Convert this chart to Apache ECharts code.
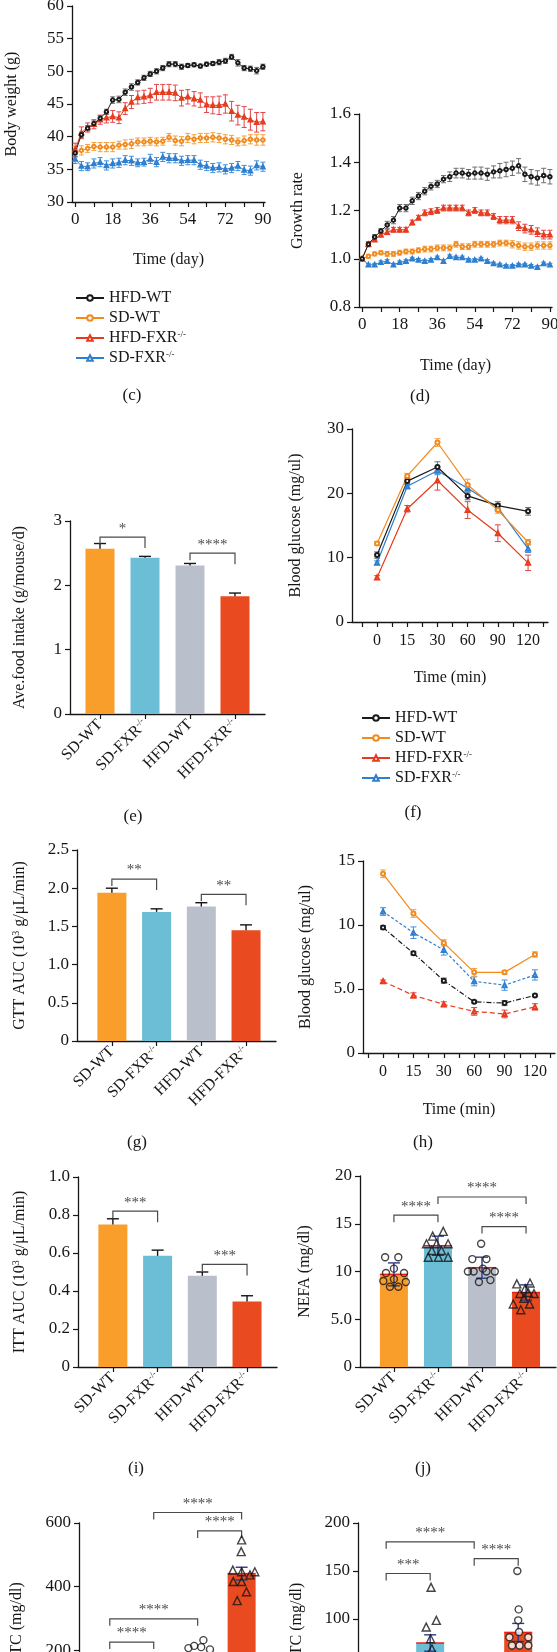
<!DOCTYPE html>
<html><head><meta charset="utf-8">
<script src="https://cdn.jsdelivr.net/npm/echarts@6/dist/echarts.min.js"></script>
<style>html,body{margin:0;padding:0;background:#fff}#main{width:557px;height:1652px}</style>
</head><body><div id="main"></div>
<script>
// ---------------- DATA ----------------
const groups = ['SD-WT','SD-FXR-/-','HFD-WT','HFD-FXR-/-'];
const lineGroups = ['HFD-WT','SD-WT','HFD-FXR-/-','SD-FXR-/-'];
const days = [0,3,6,9,12,15,18,21,24,27,30,33,36,39,42,45,48,51,54,57,60,63,66,69,72,75,78,81,84,87,90];
const dayTicks = ['0','18','36','54','72','90'];
const timeLabels = ['0','15','30','60','90','120'];

// (c) body weight
const bwHFDWT  = [37.5,40.3,41.3,42.0,42.8,43.8,45.6,45.7,46.8,47.6,48.3,49.0,49.6,50.0,50.5,51.1,51.1,50.7,50.9,51.0,50.8,51.1,51.2,51.4,51.6,52.2,51.3,50.5,50.4,50.1,50.7];
const bwHFDWTe = [0.6,0.4,0.4,0.4,0.4,0.4,0.5,0.5,0.5,0.5,0.4,0.4,0.4,0.4,0.4,0.4,0.4,0.4,0.3,0.3,0.3,0.3,0.3,0.4,0.4,0.4,0.5,0.4,0.4,0.5,0.4];
const bwSDWT   = [37.7,37.9,38.2,38.5,38.4,38.4,38.4,38.7,38.8,38.9,39.2,39.2,39.3,39.2,39.3,39.9,39.4,39.3,39.8,39.6,39.8,39.8,39.9,39.8,39.6,39.5,39.2,39.4,39.6,39.5,39.5];
const bwSDWTe  = [0.8,0.7,0.6,0.6,0.7,0.7,0.7,0.6,0.7,0.7,0.6,0.6,0.6,0.6,0.6,0.6,0.7,0.7,0.7,0.7,0.7,0.7,0.7,0.7,0.7,0.7,0.6,0.7,0.7,0.8,0.8];
const bwHFDFXR = [38.0,40.6,41.4,41.9,42.6,42.9,43.1,42.9,44.3,45.3,46.0,46.1,46.3,46.8,46.8,46.8,46.7,45.9,46.1,45.8,45.6,44.9,44.8,44.8,45.0,43.9,43.3,43.0,42.6,42.2,42.3];
const bwHFDFXRe= [1.0,0.9,0.7,0.7,0.7,0.8,0.9,0.9,0.9,1.0,1.0,1.0,1.1,1.2,1.2,1.2,1.2,1.2,1.1,1.1,1.1,1.2,1.3,1.4,1.4,1.5,1.5,1.6,1.6,1.5,1.4];
const bwSDFXR  = [36.6,35.5,35.4,35.9,36.1,35.6,35.9,36.0,36.4,36.3,36.0,36.1,36.6,36.1,36.9,36.7,36.7,36.3,36.4,36.4,35.7,35.5,35.2,35.3,35.0,35.2,35.5,34.9,34.8,35.6,35.4];
const bwSDFXRe = [0.7,0.7,0.6,0.7,0.7,0.7,0.7,0.7,0.7,0.7,0.6,0.6,0.7,0.7,0.7,0.7,0.7,0.7,0.7,0.7,0.7,0.7,0.7,0.7,0.7,0.7,0.7,0.7,0.7,0.7,0.7];
const cYTicks = ['30','35','40','45','50','55','60'];

// (d) growth rate
const grHFDWT  = [1.0,1.06,1.09,1.115,1.14,1.16,1.21,1.21,1.24,1.26,1.28,1.30,1.31,1.33,1.34,1.355,1.355,1.35,1.355,1.355,1.35,1.36,1.365,1.37,1.375,1.385,1.35,1.34,1.335,1.345,1.34];
const grHFDWTe = [0,0.01,0.01,0.01,0.015,0.015,0.015,0.015,0.015,0.015,0.015,0.015,0.015,0.015,0.02,0.02,0.02,0.02,0.025,0.025,0.025,0.025,0.03,0.03,0.03,0.03,0.03,0.03,0.03,0.03,0.03];
const grSDWT   = [1.0,1.01,1.02,1.025,1.02,1.02,1.025,1.03,1.03,1.035,1.04,1.04,1.045,1.045,1.045,1.06,1.05,1.05,1.06,1.06,1.06,1.06,1.065,1.065,1.06,1.055,1.05,1.05,1.055,1.055,1.055];
const grSDWTe  = [0,0.008,0.008,0.008,0.01,0.01,0.01,0.01,0.01,0.01,0.012,0.012,0.012,0.012,0.012,0.012,0.012,0.012,0.012,0.012,0.012,0.012,0.012,0.012,0.015,0.015,0.015,0.015,0.015,0.015,0.015];
const grHFDFXR = [1.0,1.06,1.08,1.10,1.11,1.12,1.12,1.12,1.15,1.17,1.19,1.195,1.20,1.21,1.21,1.21,1.21,1.19,1.20,1.19,1.19,1.175,1.16,1.16,1.16,1.135,1.125,1.12,1.11,1.10,1.10];
const grHFDFXRe= [0,0.01,0.01,0.01,0.01,0.01,0.01,0.01,0.01,0.01,0.012,0.012,0.012,0.012,0.012,0.012,0.012,0.012,0.012,0.012,0.012,0.012,0.015,0.015,0.015,0.018,0.018,0.018,0.018,0.018,0.018];
const grSDFXR  = [1.0,0.975,0.975,0.985,0.99,0.975,0.985,0.99,1.0,0.995,0.99,0.995,1.005,0.99,1.01,1.005,1.005,0.995,0.995,1.0,0.99,0.98,0.975,0.97,0.97,0.975,0.975,0.97,0.965,0.98,0.975];
const grSDFXRe = [0,0.006,0.006,0.006,0.006,0.006,0.006,0.006,0.006,0.006,0.006,0.006,0.006,0.006,0.006,0.006,0.006,0.006,0.006,0.006,0.006,0.006,0.006,0.006,0.006,0.006,0.006,0.006,0.006,0.006,0.006];
const dYTicks = ['0.8','1.0','1.2','1.4','1.6'];

// (e) food intake
const foodVals = [2.57,2.43,2.31,1.83];
const foodErr  = [0.08,0.02,0.03,0.05];
const foodBr   = [[0,1,2.75,'*'],[2,3,2.5,'****']];
const eYTicks  = ['0','1','2','3'];

// (f) GTT
const gttHFDWT  = [10.4,21.9,24.1,19.6,18.1,17.2];
const gttHFDWTe = [0.5,0.5,0.8,0.6,0.6,0.6];
const gttSDWT   = [12.2,22.7,27.9,21.3,17.4,12.4];
const gttSDWTe  = [0.3,0.4,0.6,0.9,0.5,0.4];
const gttHFDFXR = [6.9,17.6,22.0,17.4,13.8,9.2];
const gttHFDFXRe= [0.3,0.5,1.5,1.3,1.3,1.2];
const gttSDFXR  = [9.2,21.1,23.5,20.8,17.8,11.4];
const gttSDFXRe = [0.3,0.4,0.6,0.6,0.6,0.6];
const fYTicks = ['0','10','20','30'];

// (g) GTT AUC
const gttAuc    = [1.94,1.69,1.76,1.45];
const gttAucErr = [0.06,0.04,0.05,0.07];
const gttBr     = [[0,1,2.12,'**'],[2,3,1.92,'**']];
const gYTicks   = ['0','0.5','1.0','1.5','2.0','2.5'];

// (h) ITT
const ittSDWT   = [14.0,10.9,8.6,6.3,6.3,7.7];
const ittSDWTe  = [0.3,0.3,0.25,0.3,0.15,0.2];
const ittSDFXR  = [11.05,9.4,8.05,5.6,5.3,6.1];
const ittSDFXRe = [0.3,0.45,0.4,0.35,0.4,0.4];
const ittHFDWT  = [9.8,7.8,5.65,4.0,3.9,4.5];
const ittHFDWTe = [0.15,0.15,0.2,0.1,0.2,0.1];
const ittHFDFXR = [5.6,4.5,3.8,3.25,3.05,3.6];
const ittHFDFXRe= [0.1,0.2,0.2,0.3,0.3,0.25];
const hYTicks = ['0','5.0','10','15'];

// (i) ITT AUC
const ittAuc    = [0.75,0.585,0.48,0.345];
const ittAucErr = [0.03,0.03,0.02,0.03];
const ittBr     = [[0,1,0.82,'***'],[2,3,0.54,'***']];
const iYTicks   = ['0','0.2','0.4','0.6','0.8','1.0'];

// (j) NEFA
const nefaVals = [9.7,12.7,10.4,7.8];
const nefaErr  = [1.2,1.0,1.1,0.8];
const nefaPtsSDWT   = [[-0.20,11.5],[0.10,11.5],[0.0,10.3],[-0.18,9.85],[0.23,9.85],[0.0,9.2],[-0.24,9.0],[0.27,8.9],[-0.09,8.4],[0.10,8.4]];
const nefaPtsSDFXR  = [[1.12,14.2],[0.88,13.7],[0.74,12.9],[0.97,12.9],[1.23,12.9],[0.86,12.2],[1.08,12.2],[0.78,11.5],[1.01,11.5],[1.23,11.5]];
const nefaPtsHFDWT  = [[1.98,12.9],[1.78,11.3],[2.10,11.3],[1.68,10.0],[1.81,10.0],[2.02,10.3],[2.10,10.0],[2.29,10.0],[1.93,8.9],[2.19,9.1]];
const nefaPtsHFDFXR = [[2.79,8.7],[3.09,8.8],[2.98,8.2],[2.86,7.7],[3.05,7.8],[3.18,7.7],[2.95,7.2],[2.71,6.6],[3.08,6.6],[2.88,6.0]];
const nefaBr = [[0,1,15.9,'****'],[1,3,17.8,'****'],[2,3,14.7,'****']];
const jYTicks = ['0','5.0','10','15','20'];

// (k) TC (left)
const tcKVals = [110,130,175,441];
const tcKErr  = [10,12,10,20];
const tcKPtsHFDWT  = [[1.79,207],[1.92,214],[2.08,210],[2.13,232],[2.28,203],[1.85,150],[2.0,160],[2.15,140]];
const tcKPtsHFDFXR = [[3.0,547],[2.99,510],[2.80,452],[3.30,447],[3.0,447],[3.19,437],[2.81,416],[3.0,416],[3.11,384],[2.90,356]];
const tcKBr = [[0,1,226,'****'],[0,2,299,'****'],[2,3,575,'****'],[1,3,633,'****']];
const kYTicks = ['0','200','400','600'];

// (l) TC (right)
const tcLVals = [35,75,40,86];
const tcLErr  = [4,8.5,4,9.4];
const tcLPtsSDFXR  = [[1.02,133],[1.14,98.6],[0.91,91.6],[1.01,79.4],[1.04,68.9]];
const tcLPtsHFDFXR = [[2.98,150],[3.01,110],[3.0,98.6],[3.02,86.4],[2.80,81],[3.23,81],[2.86,72.4],[3.03,72.4],[3.23,72.4]];
const tcLBr = [[0,1,147.4,'***'],[0,2,180.4,'****'],[2,3,162.8,'****']];
const lYTicks = ['0','50','100','150','200'];

// ---------------- STYLE ----------------
const FONT = '"Liberation Serif","DejaVu Serif",serif';
const INK = '#161616';
const TICKFS = 17, NAMEFS = 16;
const SUP = {sup:{fontSize:9, verticalAlign:'top', padding:[0,0,7,0], fontFamily:FONT, color:INK}};
function supFmt(s){ return s.endsWith('-/-') ? s.slice(0,-3)+'{sup|-/-}' : s; }
const barColors = ['#f99d2b','#6cbdd6','#b9c0cc','#ea4a1f'];
const C = {
  'HFD-WT':     {line:'#1a1a1a', err:'#707070', sym:'emptyCircle'},
  'SD-WT':      {line:'#f28a1e', err:'#f2a040', sym:'emptyCircle'},
  'HFD-FXR-/-': {line:'#e63b1c', err:'#e0454a', sym:'emptyTriangle'},
  'SD-FXR-/-':  {line:'#2e7fcf', err:'#3f8fdc', sym:'emptyTriangle'}
};

// x-extent (in category units) of each indexed x axis: [min, max]
const catExt = {
  f:[-0.83, 5.66], h:[-0.66, 5.66],
  e:[-0.667, 3.667], g:[-0.78, 3.67], i:[-0.78, 3.67], j:[-0.77, 3.68], k:[-0.70, 3.6], l:[-0.64, 3.7]
};
const gridBase = {outerBoundsMode:'none', containLabel:false};
const grids = [
  {left:72,  top:6,    width:193, height:196},   // c
  {left:359, top:114,  width:193, height:193},   // d
  {left:70,  top:521,  width:195, height:193},   // e
  {left:352, top:429,  width:196, height:193},   // f
  {left:77,  top:850,  width:199, height:191},   // g
  {left:363, top:861,  width:192, height:192},   // h
  {left:78,  top:1177, width:199, height:190},   // i
  {left:360, top:1176, width:196, height:191},   // j
  {left:79,  top:1523, width:189, height:191},   // k
  {left:358, top:1523, width:191, height:192}    // l
].map(g=>Object.assign({}, gridBase, g));

const axLine = {show:true, onZero:false, lineStyle:{color:INK, width:1.3}};
const axTick = {show:true, length:5, lineStyle:{color:INK, width:1.2}};
const lblBase = {fontFamily:FONT, fontSize:TICKFS, color:INK};
const nameStyle = {fontFamily:FONT, fontSize:NAMEFS, color:INK, rich:{sup:{fontSize:10, verticalAlign:'top', padding:[0,0,7,0], fontFamily:FONT, color:INK}}};

function yAx(grid, min, max, interval, labels, name, nameGap){
  return {type:'value', gridIndex:grid, min, max, interval, name, nameLocation:'middle', nameGap,
    nameTextStyle:nameStyle, axisLine:axLine, axisTick:axTick, splitLine:{show:false},
    axisLabel:Object.assign({}, lblBase, {margin:8, formatter:v=>labels[Math.round((v-min)/interval)]})};
}
const xAxes = [], yAxes = [], series = [];

// ----- line panels -----
function dayAxis(grid, gap){
  return {type:'value', gridIndex:grid, min:-1.5, max:91, name:'Time (day)', nameLocation:'middle', nameGap:gap,
    nameTextStyle:nameStyle, axisLine:axLine,
    axisTick:Object.assign({}, axTick, {customValues:[0,9,18,27,36,45,54,63,72,81,90]}),
    splitLine:{show:false},
    axisLabel:Object.assign({}, lblBase, {margin:9, customValues:[0,18,36,54,72,90], formatter:v=>dayTicks[Math.round(v/18)]})};
}
function timeAxis(grid, ext, gap){
  return {type:'value', gridIndex:grid, min:ext[0], max:ext[1], name:'Time (min)', nameLocation:'middle', nameGap:gap,
    nameTextStyle:nameStyle, axisLine:axLine,
    axisTick:Object.assign({}, axTick, {customValues:[-0.5,0,0.5,1,1.5,2,2.5,3,3.5,4,4.5,5,5.5]}),
    splitLine:{show:false},
    axisLabel:Object.assign({}, lblBase, {fontSize:16, margin:11, customValues:[0,1,2,3,4,5], formatter:v=>timeLabels[Math.round(v)]})};
}
function errRender(color, cap, width, up){
  return function(params, api){
    const x = api.value(0), lo = api.value(1), hi = api.value(2);
    const a = api.coord([x, hi]), b = api.coord([x, lo]);
    const st = {stroke:color, lineWidth:width, fill:null};
    const ch = [
      {type:'line', shape:{x1:a[0], y1:a[1], x2:b[0], y2:b[1]}, style:st},
      {type:'line', shape:{x1:a[0]-cap, y1:a[1], x2:a[0]+cap, y2:a[1]}, style:st}
    ];
    if(!up) ch.push({type:'line', shape:{x1:b[0]-cap, y1:b[1], x2:b[0]+cap, y2:b[1]}, style:st});
    return {type:'group', children:ch};
  };
}
function errSeries(xi, yi, xs, ys, es, color, cap, width, up){
  return {type:'custom', xAxisIndex:xi, yAxisIndex:yi, silent:true, animation:false, z:2,
    renderItem:errRender(color, cap, width, up),
    data:xs.map((x,i)=>[x, up ? ys[i] : ys[i]-es[i], ys[i]+es[i]])};
}
function lineSeries(name, xi, yi, xs, ys, size, lineType, width){
  const c = C[name];
  return {type:'line', name, xAxisIndex:xi, yAxisIndex:yi, animation:false, z:3,
    data:xs.map((x,i)=>[x, ys[i]]), symbol:c.sym, symbolSize:size, showSymbol:true,
    lineStyle:{color:c.line, width:width||1, type:lineType||'solid'}, itemStyle:{color:c.line, borderWidth:1}};
}
function addLines(xi, yi, xs, sets, size, cap, types, width){
  sets.forEach(([name, ys, es], k)=>{
    series.push(errSeries(xi, yi, xs, ys, es, C[name].err, cap, 1, false));
    series.push(lineSeries(name, xi, yi, xs, ys, size, types ? types[k] : 'solid', width));
  });
}

// (c)
xAxes.push(dayAxis(0, 50));
yAxes.push(yAx(0, 30, 60, 5, cYTicks, 'Body weight (g)', 52));
addLines(0, 0, days, [['SD-FXR-/-',bwSDFXR,bwSDFXRe],['SD-WT',bwSDWT,bwSDWTe],['HFD-FXR-/-',bwHFDFXR,bwHFDFXRe],['HFD-WT',bwHFDWT,bwHFDWTe]], 3.5, 2.5);
// (d)
xAxes.push(dayAxis(1, 51));
yAxes.push(yAx(1, 0.8, 1.6, 0.2, dYTicks, 'Growth rate', 53));
addLines(1, 1, days, [['SD-FXR-/-',grSDFXR,grSDFXRe],['SD-WT',grSDWT,grSDWTe],['HFD-FXR-/-',grHFDFXR,grHFDFXRe],['HFD-WT',grHFDWT,grHFDWTe]], 3.5, 2.5);

// ----- bar panels -----
function groupAxis(grid, ext){
  return {type:'value', gridIndex:grid, min:ext[0], max:ext[1], axisLine:axLine, splitLine:{show:false},
    axisTick:Object.assign({}, axTick, {customValues:[0,1,2,3]}),
    axisLabel:Object.assign({}, lblBase, {fontSize:16, rotate:45, margin:8, customValues:[0,1,2,3],
      formatter:v=>supFmt(groups[Math.round(v)]),
      rich:{sup:{fontSize:9, verticalAlign:'top', padding:[0,0,7,0], fontFamily:FONT, color:INK}}})};
}
function bracketRender(list, dropL, dropR){
  return function(params, api){
    const b = list[params.dataIndex];
    const p1 = api.coord([b[0], b[2]]), p2 = api.coord([b[1], b[2]]);
    const st = {stroke:'#4a4a4a', lineWidth:1.2, fill:null};
    return {type:'group', children:[
      {type:'polyline', shape:{points:[[p1[0], p1[1]+dropL],[p1[0],p1[1]],[p2[0],p2[1]],[p2[0],p2[1]+dropR]]}, style:st},
      {type:'text', style:{text:b[3], x:(p1[0]+p2[0])/2, y:p1[1]-1, align:'center', verticalAlign:'bottom', fill:'#4a4a4a', font:'15px '+FONT}}
    ]};
  };
}
function meanLineRender(halfW){
  return function(params, api){
    const p = api.coord([api.value(0), api.value(1)]);
    return {type:'line', shape:{x1:p[0]-halfW, y1:p[1], x2:p[0]+halfW, y2:p[1]}, style:{stroke:'#e8201a', lineWidth:1.5}};
  };
}
function addBarPanel(grid, ext, vals, errs, brackets, barW, errColor, upOnly, dropL, dropR, meanLine){
  const xi = xAxes.length; xAxes.push(groupAxis(grid, ext));
  const yi = grid;
  const xs = [0,1,2,3];
  series.push({type:'bar', xAxisIndex:xi, yAxisIndex:yi, barWidth:barW, animation:false, z:1,
    data:vals.map((v,i)=>({value:[xs[i], v], itemStyle:{color:barColors[i]}}))});
  if(meanLine) series.push({type:'custom', xAxisIndex:xi, yAxisIndex:yi, silent:true, animation:false, z:2,
    renderItem:meanLineRender(barW/2), data:vals.map((v,i)=>[xs[i], v])});
  series.push(errSeries(xi, yi, xs, vals, errs, errColor, 6, 1.4, upOnly));
  series.push({type:'custom', xAxisIndex:xi, yAxisIndex:yi, silent:true, animation:false, z:4,
    renderItem:bracketRender(brackets, dropL, dropR), data:brackets.map(b=>[b[0], b[1], b[2]])});
  return xi;
}
function addPts(xi, yi, pts, sym, size, fill){
  series.push({type:'scatter', xAxisIndex:xi, yAxisIndex:yi, data:pts, symbol:sym, symbolSize:size, animation:false, z:5,
    itemStyle:{color:fill, borderColor:INK, borderWidth:1.4}});
}

// (e)
yAxes.push(yAx(2, 0, 3, 1, eYTicks, 'Ave.food intake (g/mouse/d)', 42));
addBarPanel(2, catExt.e, foodVals, foodErr, foodBr, 29, INK, true, 7, 11, false);
// (f)
xAxes.push(timeAxis(3, catExt.f, 48));
yAxes.push(yAx(3, 0, 30, 10, fYTicks, 'Blood glucose (mg/ul)', 48));
const fxi = xAxes.length - 1;
addLines(fxi, 3, [0,1,2,3,4,5], [['HFD-FXR-/-',gttHFDFXR,gttHFDFXRe],['SD-FXR-/-',gttSDFXR,gttSDFXRe],['HFD-WT',gttHFDWT,gttHFDWTe],['SD-WT',gttSDWT,gttSDWTe]], 4, 3, null, 1.2);
// (g)
yAxes.push(yAx(4, 0, 2.5, 0.5, gYTicks, 'GTT AUC (10{sup|3} g/μL/min)', 49));
addBarPanel(4, catExt.g, gttAuc, gttAucErr, gttBr, 29, INK, true, 7, 11, false);
// (h)
xAxes.push(timeAxis(5, catExt.h, 49));
yAxes.push(yAx(5, 0, 15, 5, hYTicks, 'Blood glucose (mg/ul)', 49));
const hxi = xAxes.length - 1;
addLines(hxi, 5, [0,1,2,3,4,5], [['HFD-FXR-/-',ittHFDFXR,ittHFDFXRe],['HFD-WT',ittHFDWT,ittHFDWTe],['SD-FXR-/-',ittSDFXR,ittSDFXRe],['SD-WT',ittSDWT,ittSDWTe]], 4, 3,
  [[5,3],[5,2,1,2],[3,2],'solid'], 1.2);
// (i)
yAxes.push(yAx(6, 0, 1.0, 0.2, iYTicks, 'ITT AUC (10{sup|3} g/μL/min)', 50));
addBarPanel(6, catExt.i, ittAuc, ittAucErr, ittBr, 29, INK, true, 7, 11, false);
// (j)
yAxes.push(yAx(7, 0, 20, 5, jYTicks, 'NEFA (mg/dl)', 47));
const jx = addBarPanel(7, catExt.j, nefaVals, nefaErr, nefaBr, 28, '#2b3a86', false, 7, 7, true);
addPts(jx, 7, nefaPtsSDWT, 'circle', 7, 'rgba(0,0,0,0)');
addPts(jx, 7, nefaPtsSDFXR, 'triangle', 8, 'rgba(0,0,0,0)');
addPts(jx, 7, nefaPtsHFDWT, 'circle', 7, 'rgba(0,0,0,0)');
addPts(jx, 7, nefaPtsHFDFXR, 'triangle', 8, 'rgba(0,0,0,0)');
// (k)
yAxes.push(yAx(8, 0, 600, 200, kYTicks, 'TC (mg/dl)', 54));
const kx = addBarPanel(8, catExt.k, tcKVals, tcKErr, tcKBr, 28, '#2b3a86', false, 7, 7, true);
addPts(kx, 8, tcKPtsHFDWT, 'circle', 7, 'rgba(0,0,0,0)');
addPts(kx, 8, tcKPtsHFDFXR, 'triangle', 8, 'rgba(0,0,0,0)');
// (l)
yAxes.push(yAx(9, 0, 200, 50, lYTicks, 'TC (mg/dl)', 53));
const lx = addBarPanel(9, catExt.l, tcLVals, tcLErr, tcLBr, 28, '#2b3a86', false, 7, 7, true);
addPts(lx, 9, tcLPtsSDFXR, 'triangle', 8, 'rgba(0,0,0,0)');
addPts(lx, 9, tcLPtsHFDFXR, 'circle', 7, '#ffffff');

// panel labels
const panelLabels = ['(c)','(d)','(e)','(f)','(g)','(h)','(i)','(j)'];
const panelPos = [[132,396],[420,397],[133,817],[413,813],[137,1143],[423,1143],[136,1469],[423,1469]];
const graphic = panelLabels.map((t,i)=>({type:'text', x:panelPos[i][0], y:panelPos[i][1],
  style:{text:t, align:'center', verticalAlign:'middle', font:'17px '+FONT, fill:INK}}));

const legendBase = {orient:'vertical', itemGap:4, itemWidth:28, itemHeight:7, data:lineGroups,
  formatter:supFmt, textStyle:{fontFamily:FONT, fontSize:16, color:INK, rich:SUP}, selectedMode:false};

const chart = echarts.init(document.getElementById('main'), null, {renderer:'canvas'});
chart.setOption({
  backgroundColor:'#ffffff',
  animation:false,
  grid:grids,
  xAxis:xAxes,
  yAxis:yAxes,
  legend:[Object.assign({left:70, top:285}, legendBase), Object.assign({left:356, top:705}, legendBase)],
  graphic:graphic,
  series:series
});
</script></body></html>
